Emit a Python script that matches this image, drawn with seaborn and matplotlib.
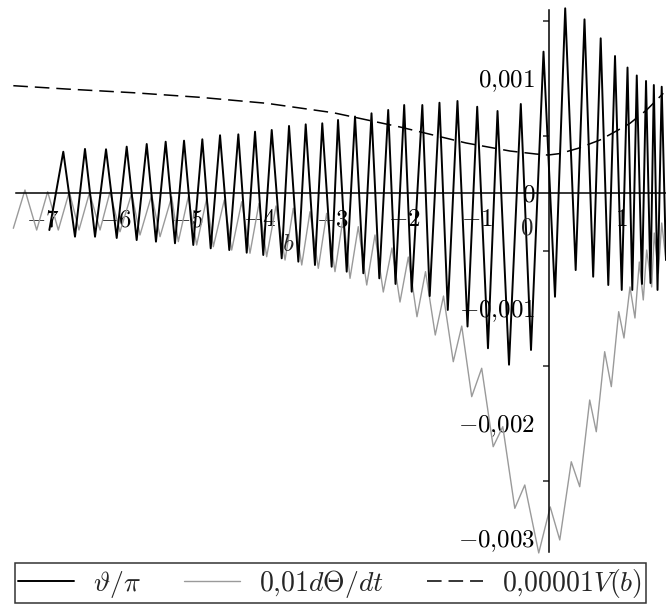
import numpy as np
import pandas as pd
import seaborn as sns
import matplotlib.pyplot as plt
from matplotlib.ticker import FixedLocator

# values, in units of 1e-3 (extrema of the oscillations)
theta_b = [-6.911, -6.718, -6.556, -6.418, -6.279, -6.127, -5.979, -5.841, -5.703, -5.564,
           -5.436, -5.302, -5.173, -5.048, -4.920, -4.795, -4.679, -4.550, -4.422, -4.297,
           -4.181, -4.066, -3.952, -3.835, -3.697, -3.596, -3.467, -3.365, -3.237, -3.136,
           -3.006, -2.918, -2.798, -2.683, -2.568, -2.455, -2.347, -2.224, -2.123, -2.003,
           -1.899, -1.752, -1.650, -1.515, -1.400, -1.266, -1.127, -0.993, -0.844, -0.712,
           -0.553, -0.390, -0.249, -0.076, 0.083, 0.224, 0.369, 0.491, 0.611, 0.715,
           0.820, 0.913, 1.006, 1.086, 1.152, 1.214, 1.286, 1.342, 1.404, 1.450,
           1.501, 1.559, 1.618]
theta_v = [-0.322, 0.359, -0.380, 0.383, -0.380, 0.380, -0.391, 0.403, -0.409, 0.426,
           -0.423, 0.446, -0.437, 0.455, -0.452, 0.467, -0.481, 0.502, -0.496, 0.510,
           -0.519, 0.533, -0.539, 0.548, -0.568, 0.583, -0.597, 0.597, -0.626, 0.606,
           -0.641, 0.635, -0.684, 0.665, -0.698, 0.693, -0.742, 0.722, -0.791, 0.765,
           -0.858, 0.765, -0.896, 0.785, -1.017, 0.800, -1.161, 0.750, -1.350, 0.713,
           -1.493, 0.774, -1.365, 1.229, -0.902, 1.606, -0.670, 1.510, -0.728, 1.345,
           -0.800, 1.191, -0.843, 1.091, -0.843, 1.022, -0.791, 0.974, -0.783, 0.939,
           -0.843, 0.924, -0.583]

dtheta_b = [-7.409, -7.248, -7.086, -6.934, -6.787, -6.635, -6.501, -6.355, -6.210, -6.072,
            -5.934, -5.772, -5.657, -5.495, -5.380, -5.219, -5.127, -4.989, -4.873, -4.734,
            -4.643, -4.491, -4.389, -4.250, -4.136, -4.011, -3.905, -3.776, -3.651, -3.537,
            -3.420, -3.306, -3.191, -3.075, -2.960, -2.845, -2.752, -2.638, -2.521, -2.407,
            -2.292, -2.172, -2.061, -1.946, -1.826, -1.708, -1.573, -1.459, -1.324, -1.207,
            -1.069, -0.931, -0.772, -0.639, -0.473, -0.335, -0.142, 0.017, 0.149, 0.308,
            0.425, 0.563, 0.654, 0.770, 0.862, 0.964, 1.037, 1.120, 1.189, 1.249,
            1.304, 1.351, 1.420, 1.456, 1.512, 1.559, 1.618]
dtheta_v = [-0.307, 0.026, -0.322, 0.011, -0.322, 0.011, -0.322, 0.004, -0.322, 0.009,
            -0.337, -0.003, -0.365, -0.017, -0.380, -0.033, -0.423, -0.033, -0.452, -0.046,
            -0.467, -0.061, -0.496, -0.076, -0.524, -0.090, -0.554, -0.113, -0.583, -0.133,
            -0.626, -0.163, -0.655, -0.177, -0.684, -0.206, -0.742, -0.293, -0.800, -0.365,
            -0.861, -0.478, -0.948, -0.557, -1.076, -0.684, -1.235, -0.896, -1.467, -1.157,
            -1.771, -1.524, -2.206, -2.032, -2.742, -2.539, -3.130, -2.730, -3.017, -2.337,
            -2.554, -1.800, -2.076, -1.380, -1.684, -1.032, -1.261, -0.817, -1.087, -0.600,
            -0.930, -0.496, -0.817, -0.348, -0.696, -0.261, -0.583]

pot_b = [-7.409, -6.671, -5.750, -4.827, -3.905, -2.983, -2.061, -1.148, -0.539,
         -0.180, -0.014, 0.152, 0.405, 0.705, 0.958, 1.120, 1.351, 1.581]
pot_v = [0.933, 0.904, 0.872, 0.832, 0.780, 0.698, 0.574, 0.435, 0.365,
         0.339, 0.330, 0.343, 0.389, 0.461, 0.548, 0.606, 0.722, 0.867]

x_ticks = [-7, -6, -5, -4, -3, -2, -1, 1]
x_labels = [r'$-7$', r'$-6$', r'$-5$', r'$-4$', r'$-3$', r'$-2$', r'$-1$', r'$1$']
y_ticks = [-0.003, -0.002, -0.001, 0, 0.001]
y_labels = [r'$-0{,}003$', r'$-0{,}002$', r'$-0{,}001$', r'$0$', r'$0{,}001$']
y_minor = [-0.0025, -0.0015, -0.0005, 0.0005, 0.0015]

df_theta = pd.DataFrame({'b': theta_b, 'v': np.array(theta_v) * 1e-3})
df_dtheta = pd.DataFrame({'b': dtheta_b, 'v': np.array(dtheta_v) * 1e-3})
df_pot = pd.DataFrame({'b': pot_b, 'v': np.array(pot_v) * 1e-3})

sns.set_style('white')
plt.rcParams['font.family'] = ['DejaVu Serif']
plt.rcParams['mathtext.fontset'] = 'cm'
plt.rcParams['lines.scale_dashes'] = False

fig = plt.figure(figsize=(6.66, 6.08), dpi=100)
ax = fig.add_axes([0, 48 / 608, 1, 560 / 608])
ax.set_facecolor('white')

sns.lineplot(data=df_dtheta, x='b', y='v', ax=ax, color='#9a9a9a', lw=1.0,
             estimator=None, sort=False, legend=False)
sns.lineplot(data=df_theta, x='b', y='v', ax=ax, color='black', lw=1.4,
             estimator=None, sort=False, legend=False)
sns.lineplot(data=df_pot, x='b', y='v', ax=ax, color='black', lw=1.1,
             estimator=None, sort=False, legend=False)
ax.lines[2].set_linestyle((0, (10.5, 5)))

ax.set_xlim(-549 / 72.3, 117 / 72.3)
ax.set_ylim(-367 / 115 * 1e-3, 193 / 115 * 1e-3)

for s in ['top', 'right']:
    ax.spines[s].set_visible(False)
ax.spines['left'].set_position(('data', 0))
ax.spines['bottom'].set_position(('data', 0))
ax.spines['left'].set_bounds(-0.00312, 0.00159)
ax.spines['bottom'].set_bounds(-7.37, 1.62)
for s in ['left', 'bottom']:
    ax.spines[s].set_linewidth(1.1)
    ax.spines[s].set_color('black')

ax.set_xticks(x_ticks)
ax.set_xticklabels(x_labels)
ax.set_yticks(y_ticks)
ax.set_yticklabels(y_labels)
ax.yaxis.set_minor_locator(FixedLocator(y_minor))
ax.tick_params(axis='both', which='major', direction='out', length=7, width=1.1,
               labelsize=18, color='black', labelcolor='black')
ax.tick_params(axis='x', which='major', pad=4)
ax.tick_params(axis='y', which='major', pad=3)
ax.tick_params(axis='y', which='minor', direction='out', length=4.3, width=1.1, left=True)
ax.set_xlabel('')
ax.set_ylabel('')

ax.annotate(r'$0$', xy=(0, 0), xytext=(-16, -25), textcoords='offset points',
            fontsize=18, ha='center', va='center')
ax.text(-3.61, -0.452e-3, r'$b$', fontsize=18, ha='center', va='center')

handles = [ax.lines[1], ax.lines[0], ax.lines[2]]
labels = [r'$\vartheta/\pi$', r'$0{,}01d\Theta/dt$', r'$0{,}00001V(b)$']
leg = fig.legend(handles, labels, loc='lower left', bbox_to_anchor=(15 / 666, 5 / 608),
                 ncol=3, frameon=True, fancybox=False, fontsize=20,
                 handlelength=2.0, handletextpad=0.7, columnspacing=1.55,
                 borderpad=0.12, borderaxespad=0)
leg.get_frame().set_edgecolor('black')
leg.get_frame().set_linewidth(1.1)

fig.savefig('out.png', dpi=100, facecolor='white')
